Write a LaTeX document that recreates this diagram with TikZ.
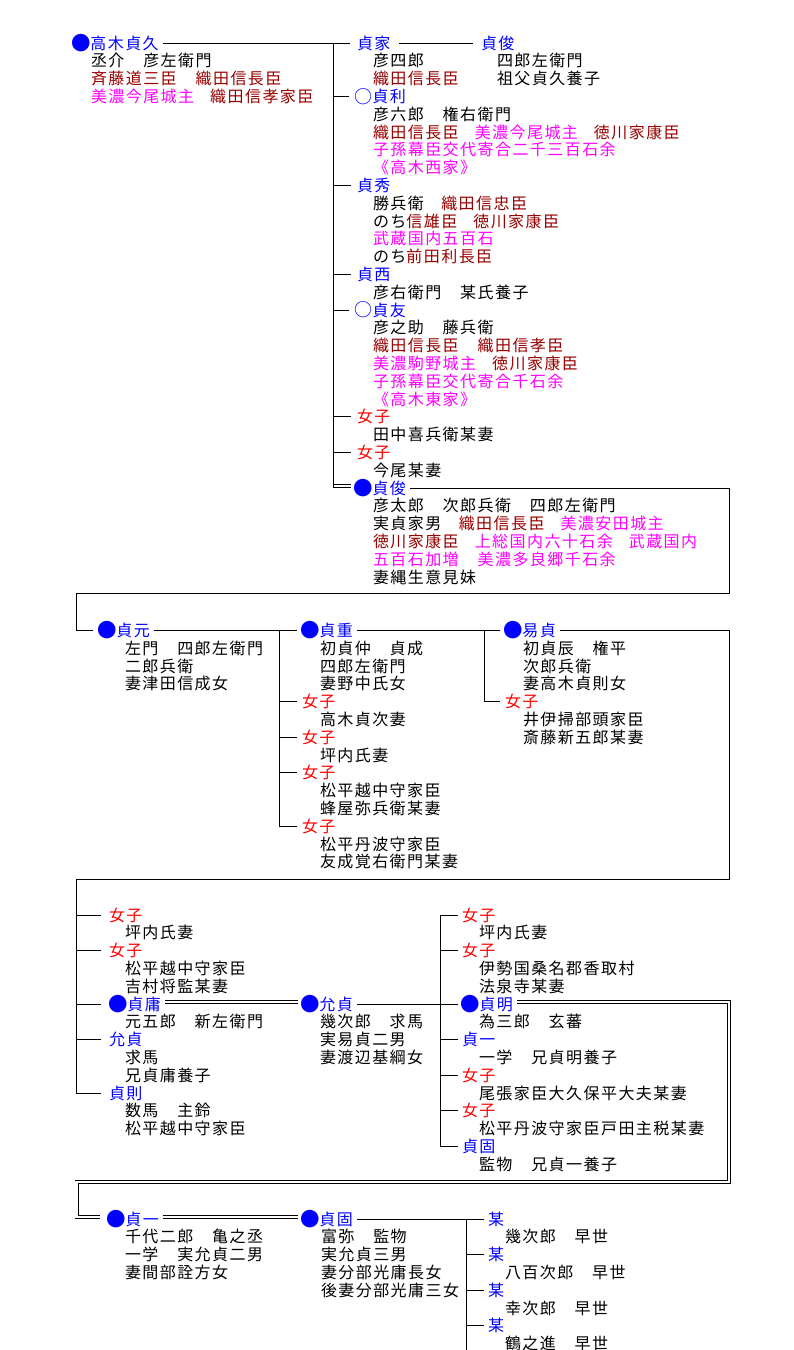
\documentclass[tikz,border=0pt]{standalone}
\usepackage{fontspec}
\usetikzlibrary{calc}
\newfontfamily\jp[LetterSpace=9]{Noto Sans CJK JP}
\newfontfamily\jpbig{Noto Sans CJK JP}
\definecolor{nm}{RGB}{0,0,255}
\definecolor{dr}{RGB}{153,0,0}
\definecolor{mg}{RGB}{255,0,255}
\definecolor{rd}{RGB}{255,0,0}
\newcommand\NM[1]{\textcolor{nm}{#1}}
\newcommand\DR[1]{\textcolor{dr}{#1}}
\newcommand\MG[1]{\textcolor{mg}{#1}}
\newcommand\RD[1]{\textcolor{rd}{#1}}
\newcommand\BD{\makebox[17.4pt][l]{\hspace*{-1.2pt}\raisebox{-1.3pt}{\fontsize{19.5pt}{19.5pt}\selectfont\jpbig ●}}}
\newcommand\WD{\makebox[17.4pt][l]{\hspace*{-0.6pt}\raisebox{-0.8pt}{\fontsize{18pt}{18pt}\selectfont\jpbig ○}}}
\tikzset{
  lbl/.style={anchor=west, inner sep=0pt, outer sep=0pt, font=\fontsize{16pt}{16pt}\selectfont\jp, text height=14pt, text depth=2pt},
  conn/.style={draw=black, line width=0.9pt},
  dbl/.style={draw=black, double=white, double distance=2.4pt, line width=0.8pt},
}
\begin{document}
\begin{tikzpicture}[x=1pt,y=-1pt]
\useasboundingbox (0,0) rectangle (794,1350);
\fill[white] (0,0) rectangle (794,1350);
% ---------- top section ----------
\node[lbl] (a0) at (73,43.0) {\NM{\BD 高木貞久}};
\node[lbl] (a1) at (91,60.8) {丞介　彦左衛門};
\node[lbl] (a2) at (91,78.6) {\DR{斉藤道三臣　織田信長臣}};
\node[lbl] (a3) at (91,96.4) {\MG{美濃今尾城主}　\DR{織田信孝家臣}};
\node[lbl] (b0) at (357,43.0) {\NM{貞家}};
\node[lbl] (b1) at (373,60.8) {彦四郎};
\node[lbl] (b2) at (373,78.6) {\DR{織田信長臣}};
\node[lbl] (c0) at (481,43.0) {\NM{貞俊}};
\node[lbl] (c1) at (497,60.8) {四郎左衛門};
\node[lbl] (c2) at (497,78.6) {祖父貞久養子};
\node[lbl] (d0) at (355,96.4) {\NM{\WD 貞利}};
\node[lbl] (d1) at (373,114.2) {彦六郎　権右衛門};
\node[lbl] (d2) at (373,132.0) {\DR{織田信長臣}　\MG{美濃今尾城主}　\DR{徳川家康臣}};
\node[lbl] (d3) at (373,149.8) {\MG{子孫幕臣交代寄合二千三百石余}};
\node[lbl] (d4) at (373,167.6) {\MG{《高木西家》}};
\node[lbl] (e0) at (357,185.4) {\NM{貞秀}};
\node[lbl] (e1) at (373,203.2) {勝兵衛　\DR{織田信忠臣}};
\node[lbl] (e2) at (373,221.0) {のち\DR{信雄臣}　\DR{徳川家康臣}};
\node[lbl] (e3) at (373,238.8) {\MG{武蔵国内五百石}};
\node[lbl] (e4) at (373,256.6) {のち\DR{前田利長臣}};
\node[lbl] (f0) at (357,274.4) {\NM{貞西}};
\node[lbl] (f1) at (373,292.2) {彦右衛門　某氏養子};
\node[lbl] (g0) at (355,310.0) {\NM{\WD 貞友}};
\node[lbl] (g1) at (373,327.8) {彦之助　藤兵衛};
\node[lbl] (g2) at (373,345.6) {\DR{織田信長臣　織田信孝臣}};
\node[lbl] (g3) at (373,363.4) {\MG{美濃駒野城主}　\DR{徳川家康臣}};
\node[lbl] (g4) at (373,381.2) {\MG{子孫幕臣交代寄合千石余}};
\node[lbl] (g5) at (373,399.0) {\MG{《高木東家》}};
\node[lbl] (h0) at (357,416.8) {\RD{女子}};
\node[lbl] (h1) at (373,434.6) {田中喜兵衛某妻};
\node[lbl] (k0) at (357,452.4) {\RD{女子}};
\node[lbl] (k1) at (373,470.2) {今尾某妻};
\node[lbl] (s0) at (355,488.0) {\NM{\BD 貞俊}};
\node[lbl] (s1) at (373,505.8) {彦太郎　次郎兵衛　四郎左衛門};
\node[lbl] (s2) at (373,523.6) {実貞家男　\DR{織田信長臣}　\MG{美濃安田城主}};
\node[lbl] (s3) at (373,541.4) {\DR{徳川家康臣}　\MG{上総国内六十石余}　\MG{武蔵国内}};
\node[lbl] (s4) at (373,559.2) {\MG{五百石加増　美濃多良郷千石余}};
\node[lbl] (s5) at (373,577.0) {妻縄生意見妹};
% ---------- second section ----------
\node[lbl] (r0) at (99,630.5) {\NM{\BD 貞元}};
\node[lbl] (r1) at (125,648.3) {左門　四郎左衛門};
\node[lbl] (r2) at (125,666.1) {二郎兵衛};
\node[lbl] (r3) at (125,683.9) {妻津田信成女};
\node[lbl] (q0) at (302,630.5) {\NM{\BD 貞重}};
\node[lbl] (q1) at (320,648.3) {初貞仲　貞成};
\node[lbl] (q2) at (320,666.1) {四郎左衛門};
\node[lbl] (q3) at (320,683.9) {妻野中氏女};
\node[lbl] (q4) at (302,701.7) {\RD{女子}};
\node[lbl] (q5) at (320,719.5) {高木貞次妻};
\node[lbl] (q6) at (302,737.3) {\RD{女子}};
\node[lbl] (q7) at (320,755.1) {坪内氏妻};
\node[lbl] (q8) at (302,772.9) {\RD{女子}};
\node[lbl] (q9) at (320,790.7) {松平越中守家臣};
\node[lbl] (q10) at (320,808.5) {蜂屋弥兵衛某妻};
\node[lbl] (q11) at (302,826.3) {\RD{女子}};
\node[lbl] (q12) at (320,844.1) {松平丹波守家臣};
\node[lbl] (q13) at (320,861.9) {友成覚右衛門某妻};
\node[lbl] (p0) at (505,630.5) {\NM{\BD 易貞}};
\node[lbl] (p1) at (523,648.3) {初貞辰　権平};
\node[lbl] (p2) at (523,666.1) {次郎兵衛};
\node[lbl] (p3) at (523,683.9) {妻高木貞則女};
\node[lbl] (p4) at (505,701.7) {\RD{女子}};
\node[lbl] (p5) at (523,719.5) {井伊掃部頭家臣};
\node[lbl] (p6) at (523,737.3) {斎藤新五郎某妻};
% ---------- third section ----------
\node[lbl] (t0) at (109,915.0) {\RD{女子}};
\node[lbl] (t1) at (125,932.8) {坪内氏妻};
\node[lbl] (t2) at (109,950.6) {\RD{女子}};
\node[lbl] (t3) at (125,968.4) {松平越中守家臣};
\node[lbl] (t4) at (125,986.2) {吉村将監某妻};
\node[lbl] (t5) at (110,1004.0) {\NM{\BD 貞庸}};
\node[lbl] (t6) at (125,1021.8) {元五郎　新左衛門};
\node[lbl] (t7) at (109,1039.6) {\NM{允貞}};
\node[lbl] (t8) at (125,1057.4) {求馬};
\node[lbl] (t9) at (125,1075.2) {兄貞庸養子};
\node[lbl] (t10) at (109,1093.0) {\NM{貞則}};
\node[lbl] (t11) at (125,1110.8) {数馬　主鈴};
\node[lbl] (t12) at (125,1128.6) {松平越中守家臣};
\node[lbl] (w0) at (302,1004.0) {\NM{\BD 允貞}};
\node[lbl] (w1) at (320,1021.8) {幾次郎　求馬};
\node[lbl] (w2) at (320,1039.6) {実易貞二男};
\node[lbl] (w3) at (320,1057.4) {妻渡辺基綱女};
\node[lbl] (z0) at (462,915.0) {\RD{女子}};
\node[lbl] (z1) at (479,932.8) {坪内氏妻};
\node[lbl] (z2) at (462,950.6) {\RD{女子}};
\node[lbl] (z3) at (479,968.4) {伊勢国桑名郡香取村};
\node[lbl] (z4) at (479,986.2) {法泉寺某妻};
\node[lbl] (z5) at (462,1004.0) {\NM{\BD 貞明}};
\node[lbl] (z6) at (479,1021.8) {為三郎　玄蕃};
\node[lbl] (z7) at (462,1039.6) {\NM{貞一}};
\node[lbl] (z8) at (479,1057.4) {一学　兄貞明養子};
\node[lbl] (z9) at (462,1075.2) {\RD{女子}};
\node[lbl] (z10) at (479,1093.0) {尾張家臣大久保平大夫某妻};
\node[lbl] (z11) at (462,1110.8) {\RD{女子}};
\node[lbl] (z12) at (479,1128.6) {松平丹波守家臣戸田主税某妻};
\node[lbl] (z13) at (462,1146.4) {\NM{貞固}};
\node[lbl] (z14) at (479,1164.2) {監物　兄貞一養子};
% ---------- fourth section ----------
\node[lbl] (y0) at (108,1219.0) {\NM{\BD 貞一}};
\node[lbl] (y1) at (125,1236.8) {千代二郎　亀之丞};
\node[lbl] (y2) at (125,1254.6) {一学　実允貞二男};
\node[lbl] (y3) at (125,1272.4) {妻間部詮方女};
\node[lbl] (x0) at (302,1219.0) {\NM{\BD 貞固}};
\node[lbl] (x1) at (321,1236.8) {富弥　監物};
\node[lbl] (x2) at (321,1254.6) {実允貞三男};
\node[lbl] (x3) at (321,1272.4) {妻分部光庸長女};
\node[lbl] (x4) at (321,1290.2) {後妻分部光庸三女};
\node[lbl] (m0) at (488,1219.0) {\NM{某}};
\node[lbl] (m1) at (505,1236.8) {幾次郎　早世};
\node[lbl] (m2) at (488,1254.6) {\NM{某}};
\node[lbl] (m3) at (505,1272.4) {八百次郎　早世};
\node[lbl] (m4) at (488,1290.2) {\NM{某}};
\node[lbl] (m5) at (505,1308.0) {幸次郎　早世};
\node[lbl] (m6) at (488,1325.8) {\NM{某}};
\node[lbl] (m7) at (505,1343.6) {鶴之進　早世};
% ---------- connectors ----------
\coordinate (T) at (333,0);
\draw[conn] ($(a0.east)+(4,0)$) -- ($(b0.west)+(-7,0)$);
\draw[conn] ($(b0.east)+(9,0)$) -- ($(c0.west)+(-8,0)$);
\draw[dbl] ($(T |- s0.west)+(0,-2)$) -- ($(s0.west)+(-4,-2)$);
\draw[conn] (T |- a0.west) -- (T |- s0.west);
\foreach \n in {d0,e0,f0,g0,h0,k0} \draw[conn] (T |- \n.west) -- ($(\n.west)+(-6,0)$);
\coordinate (B1) at (729,593);
\coordinate (B1L) at (76.5,593);
\draw[conn] ($(s0.east)+(4,0)$) -| (B1) -- (B1L) |- ($(r0.west)+(-6,0)$);
% second section
\coordinate (V2) at (279,0);
\coordinate (V3) at (484,0);
\draw[conn] ($(r0.east)+(4,0)$) -- ($(q0.west)+(-5,0)$);
\draw[conn] (V2 |- r0.west) -- (V2 |- q11.west);
\foreach \n in {q4,q6,q8,q11} \draw[conn] (V2 |- \n.west) -- ($(\n.west)+(-5,0)$);
\draw[conn] ($(q0.east)+(4,0)$) -- ($(p0.west)+(-5,0)$);
\draw[conn] (V3 |- q0.west) -- (V3 |- p4.west) -- ($(p4.west)+(-5,0)$);
\coordinate (B2) at (729,879);
\coordinate (B2L) at (76.5,879);
\draw[conn] ($(p0.east)+(4,0)$) -| (B2) -- (B2L) |- ($(t10.west)+(-8,0)$);
% third section
\coordinate (VL) at (76.5,0);
\foreach \n in {t0,t2,t7} \draw[conn] (VL |- \n.west) -- ($(\n.west)+(-8,0)$);
\draw[conn] (VL |- t5.west) -- ($(t5.west)+(-9,0)$);
\draw[dbl] ($(t5.east)+(4,-2)$) -- ($(w0.west)+(-4,-2)$);
\draw[conn] ($(w0.east)+(4,0)$) -- ($(z5.west)+(-4,0)$);
\coordinate (V4) at (440,0);
\draw[conn] (V4 |- z0.west) -- (V4 |- z13.west);
\foreach \n in {z0,z2,z7,z9,z11,z13} \draw[conn] (V4 |- \n.west) -- ($(\n.west)+(-4,0)$);
\coordinate (B3) at (729,1182);
\coordinate (B3L) at (76.5,1182);
\draw[dbl] ($(z5.east)+(4,-2)$) -| (B3) -- (B3L) |- ($(y0.west)+(-8,-2)$);
% fourth section
\draw[dbl] ($(y0.east)+(4,-2)$) -- ($(x0.west)+(-4,-2)$);
\draw[conn] ($(x0.east)+(4,0)$) -- ($(m0.west)+(-4,0)$);
\coordinate (V5) at (466,0);
\coordinate (BOT) at (466,1350);
\draw[conn] (V5 |- m0.west) -- (BOT);
\foreach \n in {m2,m4,m6} \draw[conn] (V5 |- \n.west) -- ($(\n.west)+(-4,0)$);
\end{tikzpicture}
\end{document}
